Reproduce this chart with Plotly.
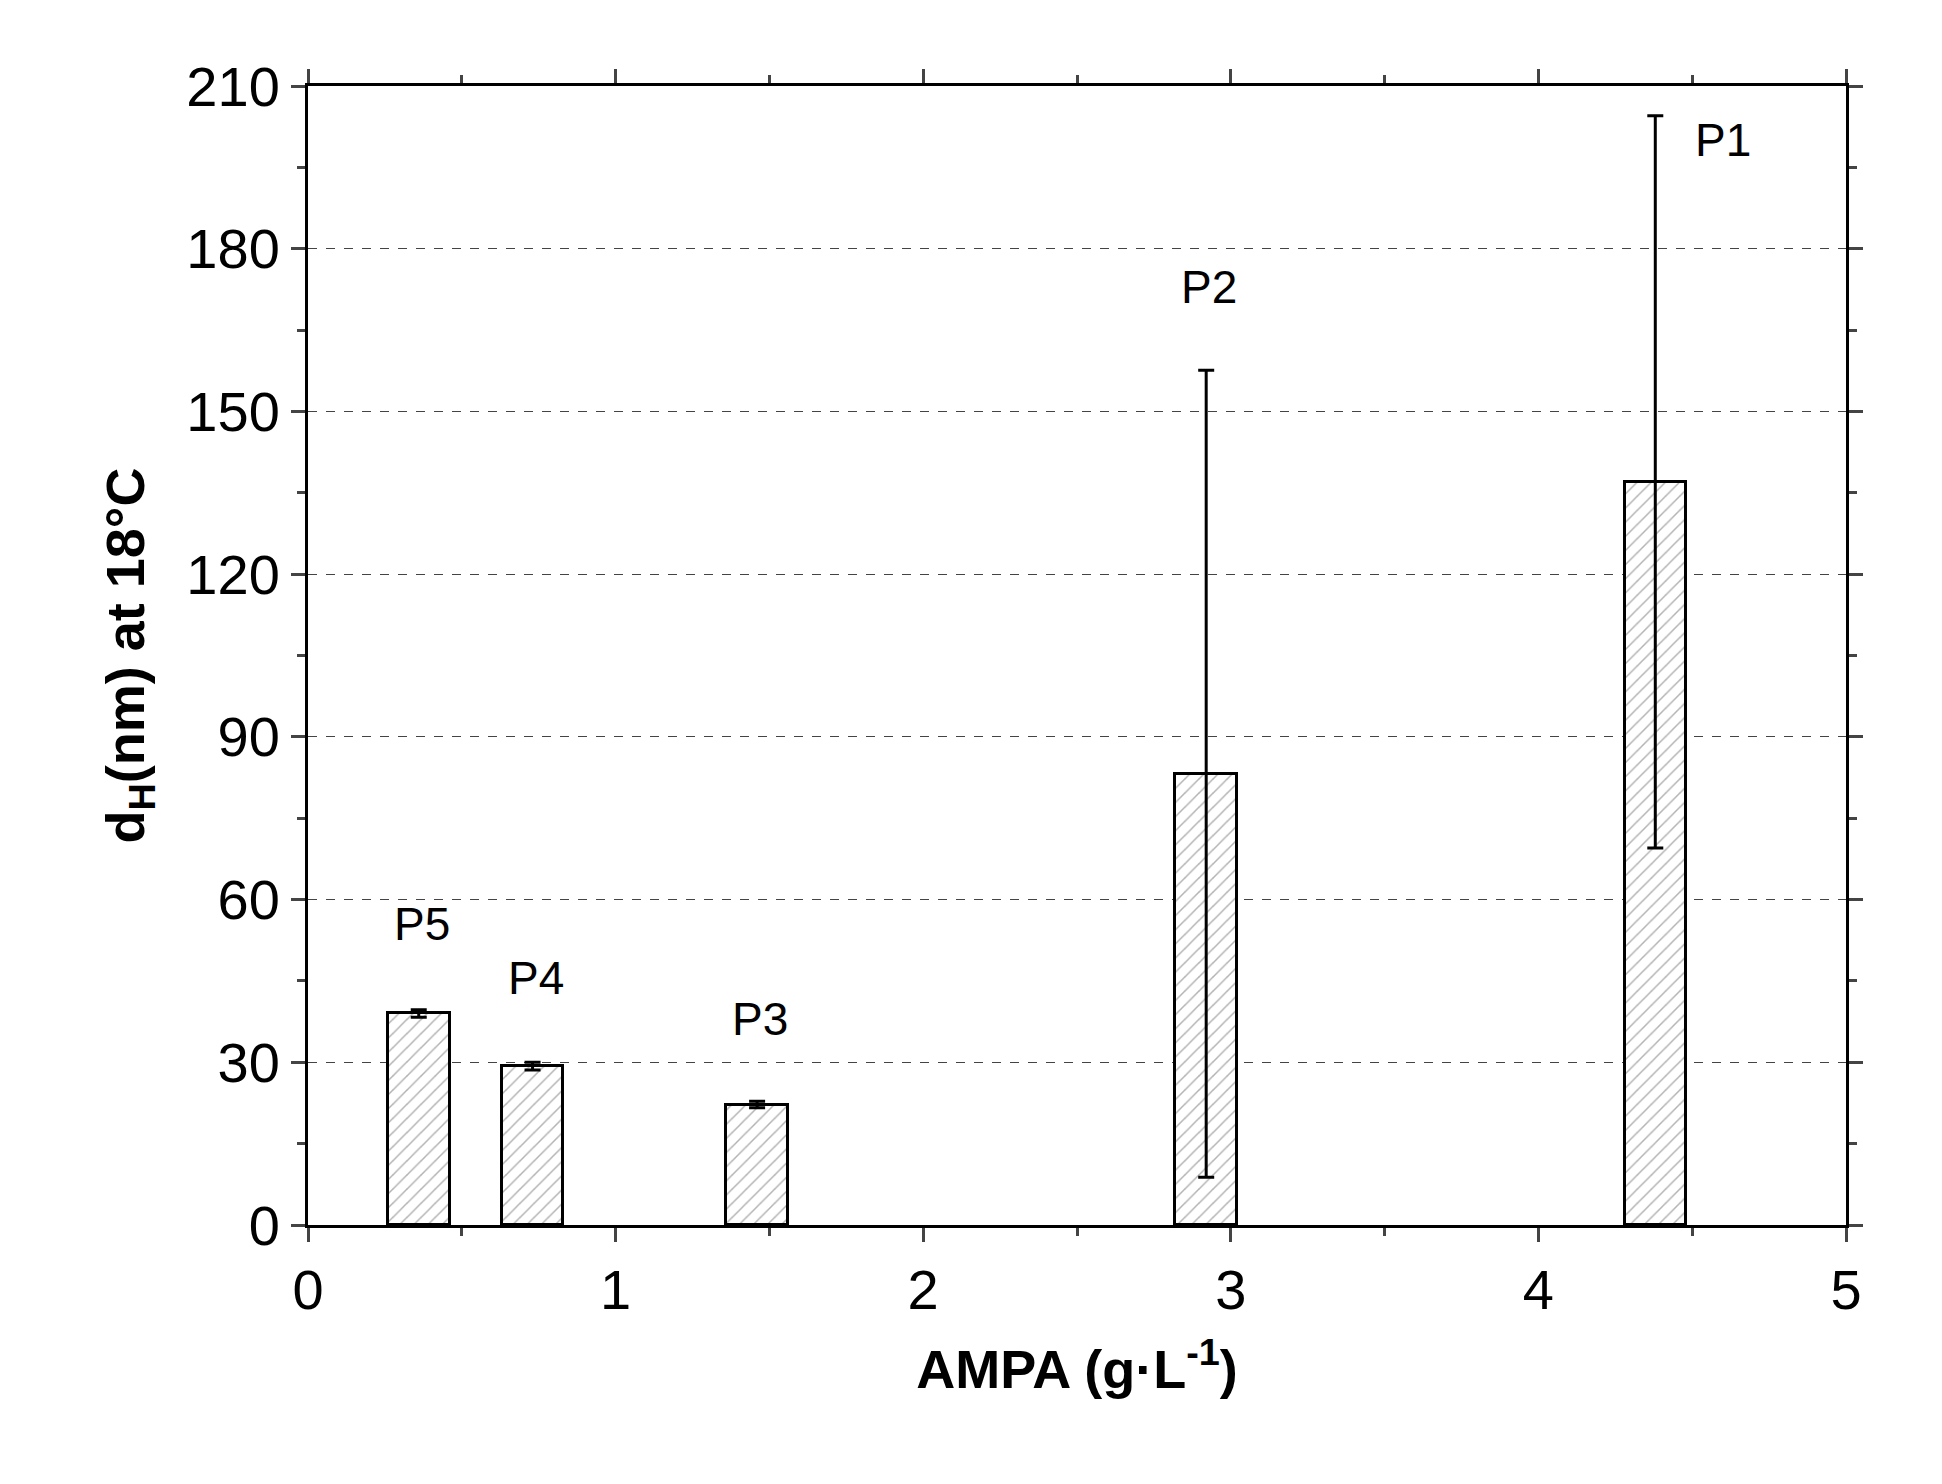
import plotly.graph_objects as go

# AMPA concentration (g/L) and hydrodynamic diameter
ampa = [0.36, 0.73, 1.46, 2.92, 4.38]
d_h = [39.0, 29.3, 22.2, 83.2, 137.0]
d_err = [0.7, 0.7, 0.6, 74.4, 67.5]
names = ["P5", "P4", "P3", "P2", "P1"]
label_x = [0.37, 0.74, 1.47, 2.93, 4.6]
label_y = [55.5, 45.5, 38, 173, 200]

FONT = "Liberation Sans, Arial, sans-serif"

fig = go.Figure()
fig.add_trace(go.Bar(
    x=ampa, y=d_h, width=0.2,
    marker=dict(color="white", line=dict(color="black", width=3),
                pattern=dict(shape="/", fgcolor="#666666", size=10, solidity=0.15)),
    error_y=dict(type="data", array=d_err, visible=True, color="black",
                 thickness=3, width=8),
    showlegend=False,
))

for n, x, y in zip(names, label_x, label_y):
    fig.add_annotation(x=x, y=y, text=n, showarrow=False,
                       font=dict(family=FONT, size=46, color="black"))

fig.update_layout(
    width=1942, height=1484,
    margin=dict(l=300, r=104, t=78, b=267),
    plot_bgcolor="white", paper_bgcolor="white",
    font=dict(family=FONT, color="black"),
    bargap=0,
)
fig.update_xaxes(
    range=[0, 5], dtick=1, showgrid=False, zeroline=False,
    showline=True, linecolor="black", linewidth=3, mirror="ticks",
    ticks="outside", ticklen=14, tickwidth=3,
    minor=dict(dtick=0.5, ticks="outside", ticklen=8, tickwidth=2.5),
    tickfont=dict(size=56),
    title=dict(text="<b>AMPA (g·L<sup>-1</sup>)</b>", font=dict(size=54), standoff=30),
)
fig.update_yaxes(
    range=[0, 210], dtick=30, zeroline=False,
    showgrid=True, gridcolor="#444444", gridwidth=1.3, griddash="dash",
    showline=True, linecolor="black", linewidth=3, mirror="ticks",
    ticks="outside", ticklen=14, tickwidth=3,
    minor=dict(dtick=15, ticks="outside", ticklen=8, tickwidth=2.5, showgrid=False),
    tickfont=dict(size=56),
    title=dict(text="<b>d<sub>H</sub>(nm) at 18°C</b>", font=dict(size=54), standoff=25),
)

fig.write_html("out.html")
